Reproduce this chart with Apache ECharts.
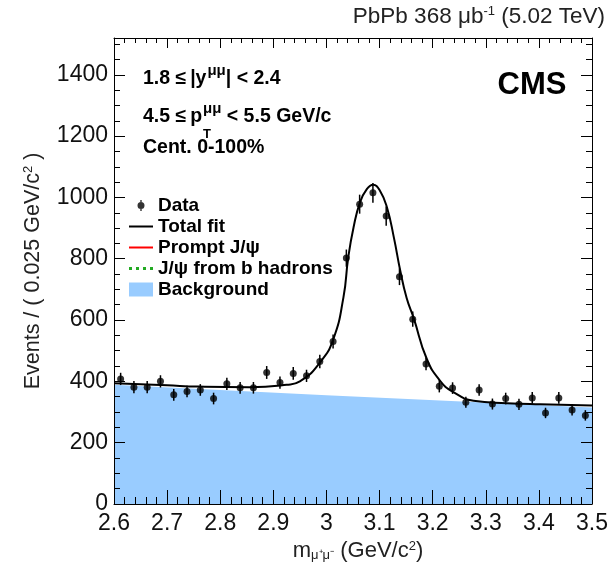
<!DOCTYPE html>
<html>
<head>
<meta charset="utf-8">
<script src="https://cdn.jsdelivr.net/npm/echarts@6/dist/echarts.min.js"></script>
<style>
  html, body { margin: 0; background: #fff; }
  #chart { width: 615px; height: 573px; }
</style>
</head>
<body>
<div id="chart"></div>
<script>
// bin centres (0.025 GeV/c^2 bins)
const massBins = [
  2.6125, 2.6375, 2.6625, 2.6875, 2.7125, 2.7375, 2.7625, 2.7875, 2.8125,
  2.8375, 2.8625, 2.8875, 2.9125, 2.9375, 2.9625, 2.9875, 3.0125, 3.0375,
  3.0625, 3.0875, 3.1125, 3.1375, 3.1625, 3.1875, 3.2125, 3.2375, 3.2625,
  3.2875, 3.3125, 3.3375, 3.3625, 3.3875, 3.4125, 3.4375, 3.4625, 3.4875
];
const counts = [
  408, 381, 381, 400, 356, 367, 372, 344, 392,
  379, 379, 429, 396, 426, 418, 465, 530, 802,
  978, 1015, 939, 741, 603, 457, 384, 378, 332,
  372, 326, 344, 325, 346, 297, 346, 307, 289
];
const countErrors = [
  20, 20, 20, 20, 19, 19, 19, 19, 20,
  19, 19, 21, 20, 21, 20, 22, 23, 28,
  31, 32, 31, 27, 25, 21, 20, 19, 18,
  19, 18, 19, 18, 19, 17, 19, 18, 17
];

// total fit
const fitMass = [
  2.600, 2.700, 2.760, 2.855, 2.925, 2.950, 2.988, 3.013, 3.032, 3.041,
  3.051, 3.063, 3.076, 3.088, 3.101, 3.114, 3.127, 3.139, 3.151, 3.164,
  3.189, 3.214, 3.239, 3.277, 3.340, 3.402, 3.500
];
const fitValues = [
  394, 387, 383, 381, 389, 400, 462, 538, 674, 804,
  902, 983, 1027, 1041, 1021, 967, 869, 761, 672, 608,
  473, 402, 365, 337, 329, 325, 321
];

const bkgMass = [2.6, 3.0, 3.5];
const bkgValues = [389, 355, 315];

const legendNames = ['Data', 'Total fit', 'Prompt J/\u03c8', 'J/\u03c8 from b hadrons', 'Background'];

const FONT = 'Liberation Sans, Arial, Helvetica, sans-serif';
const BKG_BLUE = '#99ccff';

const zip = (xs, ys) => xs.map((x, i) => [x, ys[i]]);

// legend icons; zero-area subpaths keep the icon box at 24x14
const dataPointIcon =
  'path://M0,7L24,7Z' +
  'M11.3,1.5L12.7,1.5L12.7,12.5L11.3,12.5Z' +
  'M15.5,7A3.5,3.5,0,1,1,8.5,7A3.5,3.5,0,1,1,15.5,7Z';
const solidLineIcon = 'path://M0,0L24,0L24,2L0,2Z';
const dottedLineIcon = 'path://M0,0h3v3h-3zM7,0h3v3h-3zM14,0h3v3h-3zM21,0h3v3h-3z';

const frameAxis = (extra) => ({
  axisLine: { show: true, onZero: false, lineStyle: { color: '#000', width: 1 } },
  splitLine: { show: false },
  z: 10,
  ...extra
});

const boldSup = { fontFamily: FONT, fontSize: 15, fontWeight: 'bold', fill: '#000', padding: [0, 0, 17, 1] };

const chart = echarts.init(document.getElementById('chart'), null, { renderer: 'canvas' });

chart.setOption({
  animation: false,
  backgroundColor: '#fff',
  grid: { left: 114, right: 23, top: 38, bottom: 69 },
  legend: {
    orient: 'vertical',
    left: 129,
    top: 196,
    padding: 0,
    itemWidth: 24,
    itemHeight: 14,
    itemGap: 2,
    selectedMode: false,
    textStyle: { fontFamily: FONT, fontWeight: 'bold', fontSize: 19, color: '#000', lineHeight: 18 },
    data: [
      { name: legendNames[0], icon: dataPointIcon },
      { name: legendNames[1], icon: solidLineIcon },
      { name: legendNames[2], icon: solidLineIcon },
      { name: legendNames[3], icon: dottedLineIcon },
      { name: legendNames[4], icon: 'rect' }
    ]
  },
  xAxis: [
    frameAxis({
      type: 'value', min: 2.6, max: 3.5, interval: 0.1,
      axisTick: { inside: true, length: 14, lineStyle: { color: '#000' } },
      minorTick: { show: true, splitNumber: 5, length: 7, lineStyle: { color: '#000' } },
      axisLabel: { fontFamily: FONT, fontSize: 23, color: '#111', margin: 8 }
    }),
    frameAxis({
      type: 'value', min: 2.6, max: 3.5, interval: 0.1, position: 'top',
      axisTick: { inside: true, length: 10, lineStyle: { color: '#000' } },
      minorTick: { show: true, splitNumber: 5, length: 5, lineStyle: { color: '#000' } },
      axisLabel: { show: false }
    })
  ],
  yAxis: [
    frameAxis({
      type: 'value', min: 0, max: 1520, interval: 200,
      axisTick: { inside: true, length: 11, lineStyle: { color: '#000' } },
      minorTick: { show: true, splitNumber: 4, length: 6, lineStyle: { color: '#000' } },
      axisLabel: {
        fontFamily: FONT, fontSize: 23, color: '#111', margin: 6,
        formatter: (v) => (v % 200 === 0 ? String(v) : '')
      }
    }),
    frameAxis({
      type: 'value', min: 0, max: 1520, interval: 200, position: 'right',
      axisTick: { inside: true, length: 11, lineStyle: { color: '#000' } },
      minorTick: { show: true, splitNumber: 4, length: 6, lineStyle: { color: '#000' } },
      axisLabel: { show: false }
    })
  ],
  series: [
    {
      name: legendNames[4],
      type: 'line',
      z: 1,
      data: zip(bkgMass, bkgValues),
      symbol: 'none',
      itemStyle: { color: BKG_BLUE },
      lineStyle: { width: 0, color: BKG_BLUE },
      areaStyle: { color: BKG_BLUE, opacity: 1 }
    },
    {
      name: legendNames[2],
      type: 'line',
      data: [],
      symbol: 'none',
      itemStyle: { color: '#ff0000' },
      lineStyle: { color: '#ff0000', width: 2 }
    },
    {
      name: legendNames[3],
      type: 'line',
      data: [],
      symbol: 'none',
      itemStyle: { color: '#22aa22' },
      lineStyle: { color: '#22aa22', width: 3, type: [3, 3] }
    },
    {
      name: legendNames[1],
      type: 'line',
      z: 3,
      data: zip(fitMass, fitValues),
      symbol: 'none',
      smooth: 0.5,
      itemStyle: { color: '#000' },
      lineStyle: { color: '#000', width: 2 }
    },
    {
      name: 'errors',
      type: 'custom',
      z: 4,
      data: massBins.map((m, i) => [m, counts[i], countErrors[i]]),
      renderItem: (params, api) => {
        const lo = api.coord([api.value(0), api.value(1) - api.value(2)]);
        const hi = api.coord([api.value(0), api.value(1) + api.value(2)]);
        return {
          type: 'line',
          shape: { x1: lo[0], y1: lo[1], x2: hi[0], y2: hi[1] },
          style: { stroke: '#000', lineWidth: 1.5 }
        };
      }
    },
    {
      name: legendNames[0],
      type: 'scatter',
      z: 5,
      data: zip(massBins, counts),
      symbol: 'circle',
      symbolSize: 7,
      itemStyle: { color: '#000' }
    }
  ],
  graphic: [
    {
      type: 'text', x: 605, y: 17,
      style: {
        text: 'PbPb 368 \u03bcb{sup|-1} (5.02 TeV)',
        fontFamily: FONT, fontSize: 22.5, fill: '#222',
        align: 'right', verticalAlign: 'middle',
        rich: { sup: { fontFamily: FONT, fontSize: 13, fill: '#222', padding: [0, 0, 11, 0] } }
      }
    },
    {
      type: 'text', x: 532, y: 85,
      style: {
        text: 'CMS', fontFamily: FONT, fontSize: 31, fontWeight: 'bold', fill: '#000',
        align: 'center', verticalAlign: 'middle'
      }
    },
    {
      type: 'text', x: 143, y: 79,
      style: {
        text: '1.8 \u2264\u2009|y{sup|\u03bc\u03bc}| < 2.4',
        fontFamily: FONT, fontSize: 19.5, fontWeight: 'bold', fill: '#000',
        verticalAlign: 'middle',
        rich: { sup: boldSup }
      }
    },
    {
      type: 'text', x: 143, y: 117,
      style: {
        text: '4.5 \u2264\u2009p{sup|\u03bc\u03bc} < 5.5 GeV/c',
        fontFamily: FONT, fontSize: 19.5, fontWeight: 'bold', fill: '#000',
        verticalAlign: 'middle',
        rich: { sup: boldSup }
      }
    },
    {
      type: 'text', x: 203, y: 134,
      style: {
        text: 'T', fontFamily: FONT, fontSize: 13, fontWeight: 'bold', fill: '#000',
        verticalAlign: 'middle'
      }
    },
    {
      type: 'text', x: 143, y: 148,
      style: {
        text: 'Cent. 0-100%', fontFamily: FONT, fontSize: 19.5, fontWeight: 'bold', fill: '#000',
        verticalAlign: 'middle'
      }
    },
    {
      type: 'text', x: 33, y: 271, rotation: Math.PI / 2,
      style: {
        text: 'Events / ( 0.025 GeV/c{sup|2} )',
        fontFamily: FONT, fontSize: 21.5, fill: '#222',
        align: 'center', verticalAlign: 'middle',
        rich: { sup: { fontFamily: FONT, fontSize: 13, fill: '#222', padding: [0, 0, 10, 0] } }
      }
    },
    {
      type: 'text', x: 358, y: 551,
      style: {
        text: 'm{sub|\u03bc\u207a\u03bc\u207b} (GeV/c{sup|2})',
        fontFamily: FONT, fontSize: 22, fill: '#222',
        align: 'center', verticalAlign: 'middle',
        rich: {
          sup: { fontFamily: FONT, fontSize: 13, fill: '#222', padding: [0, 0, 10, 0] },
          sub: { fontFamily: FONT, fontSize: 13, fill: '#222', padding: [9, 0, 0, 0] }
        }
      }
    }
  ]
});
</script>
</body>
</html>
